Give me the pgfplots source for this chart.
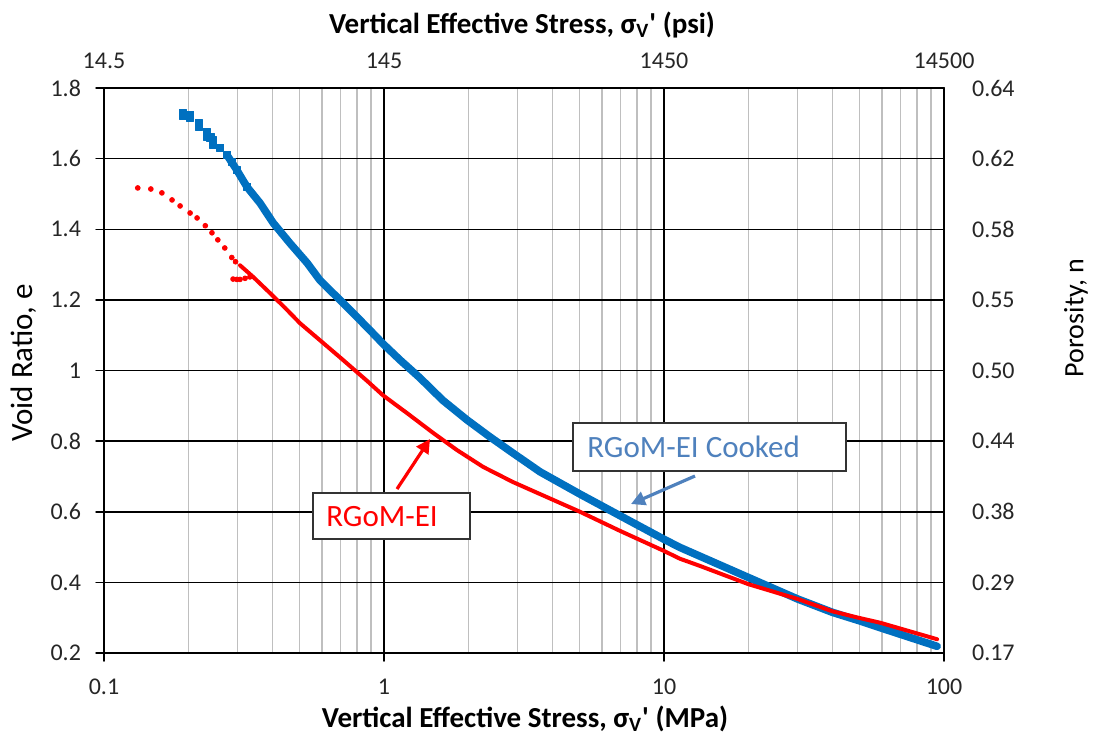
\documentclass[border=0pt]{standalone}
\usepackage{pgfplots}
\pgfplotsset{compat=1.18}
\usepackage{fontspec}
\setmainfont{Carlito}
\usetikzlibrary{arrows.meta}
\definecolor{xblue}{RGB}{0,112,192}
\definecolor{xred}{RGB}{255,0,0}
\definecolor{annblue}{RGB}{79,129,189}
\definecolor{gridgray}{RGB}{191,191,191}
\definecolor{ticktext}{RGB}{38,38,38}
\begin{document}
\begin{tikzpicture}
\begin{axis}[name=main, scale only axis, width=420pt, height=282.5pt,
  xmode=log, xmin=0.1, xmax=100, ymin=0.2, ymax=1.8,
  xtick={0.1,1,10,100}, xticklabels={0.1,1,10,100},
  ytick={0.2,0.4,0.6,0.8,1.0,1.2,1.4,1.6,1.8},
  yticklabels={0.2,0.4,0.6,0.8,1,1.2,1.4,1.6,1.8},
  grid=both,
  major grid style={black, line width=0.75pt},
  minor grid style={gridgray, line width=0.75pt},
  axis line style={black, line width=0.75pt},
  tick style={black, line width=0.75pt},
  major tick length=4pt, minor tick length=0pt,
  tick align=outside, xtick pos=bottom, ytick pos=left,
  tick label style={font=\fontsize{12}{14}\selectfont, text=ticktext},
  xticklabel style={yshift=-5.5pt},
  yticklabel style={xshift=-4pt},
  line join=round, line cap=round,
]
% RGoM-EI Cooked: sparse start (marks)
\addplot[only marks, mark=square*, mark size=1.8pt, color=xblue] coordinates {
(0.191,1.730) (0.191,1.722) (0.203,1.724) (0.203,1.716) (0.218,1.700) (0.218,1.690)
(0.233,1.675) (0.233,1.662) (0.240,1.660) (0.245,1.652) (0.245,1.640)
(0.260,1.630) (0.275,1.610) (0.287,1.590) (0.298,1.568) (0.324,1.520)
};
% RGoM-EI Cooked: dense part
\addplot[no marks, color=xblue, line width=3.8pt] coordinates {
(0.275,1.610) (0.298,1.568) (0.324,1.520) (0.361,1.474) (0.402,1.418) (0.462,1.360)
(0.531,1.305) (0.590,1.256) (0.714,1.191) (0.869,1.123) (0.991,1.076) (1.14,1.030)
(1.34,0.980) (1.62,0.916) (1.98,0.860) (2.39,0.812) (2.89,0.766) (3.61,0.713)
(5.01,0.650) (6.96,0.589) (10.0,0.522) (11.4,0.499) (20.0,0.414) (30.0,0.353)
(40.0,0.315) (50.0,0.291) (59.0,0.272) (94.5,0.219)
};
% RGoM-EI: sparse start (marks)
\addplot[only marks, mark=*, mark size=1.2pt, color=xred] coordinates {
(0.132,1.517) (0.147,1.514) (0.161,1.503) (0.175,1.483) (0.187,1.466) (0.203,1.446)
(0.215,1.432) (0.230,1.410) (0.243,1.390) (0.255,1.370) (0.270,1.347) (0.286,1.320)
(0.295,1.308) (0.289,1.259) (0.298,1.258) (0.306,1.258) (0.319,1.261) (0.332,1.265)
};
% RGoM-EI: dense part
\addplot[no marks, color=xred, line width=2pt] coordinates {
(0.306,1.298) (0.341,1.265) (0.392,1.219) (0.445,1.176) (0.501,1.134) (0.590,1.086)
(0.697,1.037) (0.869,0.971) (0.991,0.930) (1.21,0.879) (1.50,0.823) (1.82,0.775)
(2.26,0.727) (2.89,0.684) (3.61,0.650) (5.01,0.600) (6.96,0.546) (10.0,0.489)
(11.4,0.467) (13.4,0.447) (20.0,0.395) (30.0,0.353) (40.0,0.318) (50.0,0.299)
(59.0,0.286) (94.5,0.239)
};
\end{axis}
\begin{axis}[scale only axis, width=420pt, height=282.5pt,
  at={(main.south west)}, anchor=south west,
  xmode=log, xmin=0.1, xmax=100, ymin=0.2, ymax=1.8,
  axis x line*=top, axis y line*=right,
  axis line style={black, line width=0.75pt, -},
  xtick={0.1,1,10,100}, xticklabels={14.5,145,1450,14500},
  ytick={0.2,0.4,0.6,0.8,1.0,1.2,1.4,1.6,1.8},
  yticklabels={0.17,0.29,0.38,0.44,0.50,0.55,0.58,0.62,0.64},
  major tick length=0pt, minor tick length=0pt,
  tick label style={font=\fontsize{12}{14}\selectfont, text=ticktext},
  xticklabel style={yshift=6pt},
  yticklabel style={xshift=10.5pt},
]
\addplot[draw=none] coordinates {(1,1)};
\end{axis}
\begin{scope}[x=0.5pt, y=-0.5pt, shift={(main.south west)}, shift={(-104,-653)}]
  \pgfresetboundingbox
  \path[use as bounding box] (0,0) rectangle (1096,736);
  \node[anchor=base, font=\bfseries\fontsize{14.5}{16}\selectfont] at (522,33)
    {Vertical Effective Stress, σ\textsubscript{V}\textquotesingle{} (psi)};
  \node[anchor=base, font=\bfseries\fontsize{14.5}{16}\selectfont] at (525,727)
    {Vertical Effective Stress, σ\textsubscript{V}\textquotesingle{} (MPa)};
  \node[rotate=90, anchor=base, font=\fontsize{15.5}{18}\selectfont] at (33,363) {Void Ratio, e};
  \node[rotate=90, anchor=center, font=\fontsize{14}{17}\selectfont] at (1076,318) {Porosity, n};
  % annotation arrows and boxes
  \draw[xred, line width=1.6pt, -{Triangle[length=7pt,width=7pt]}] (397,489) -- (430,439);
  \draw[annblue, line width=1.6pt, -{Triangle[length=7pt,width=7pt]}] (695,476) -- (631,504);
  \draw[fill=white, draw=black!80, line width=0.75pt] (313,493) rectangle (470,539);
  \draw[fill=white, draw=black!80, line width=0.75pt] (573,423) rectangle (846,471);
  \node[anchor=west, inner sep=0pt, text=xred, font=\fontsize{15.5}{18}\selectfont] at (326,517) {RGoM-EI};
  \node[anchor=west, inner sep=0pt, text=annblue, font=\fontsize{15.5}{18}\selectfont] at (587,447) {RGoM-EI Cooked};
\end{scope}
\end{tikzpicture}
\end{document}
